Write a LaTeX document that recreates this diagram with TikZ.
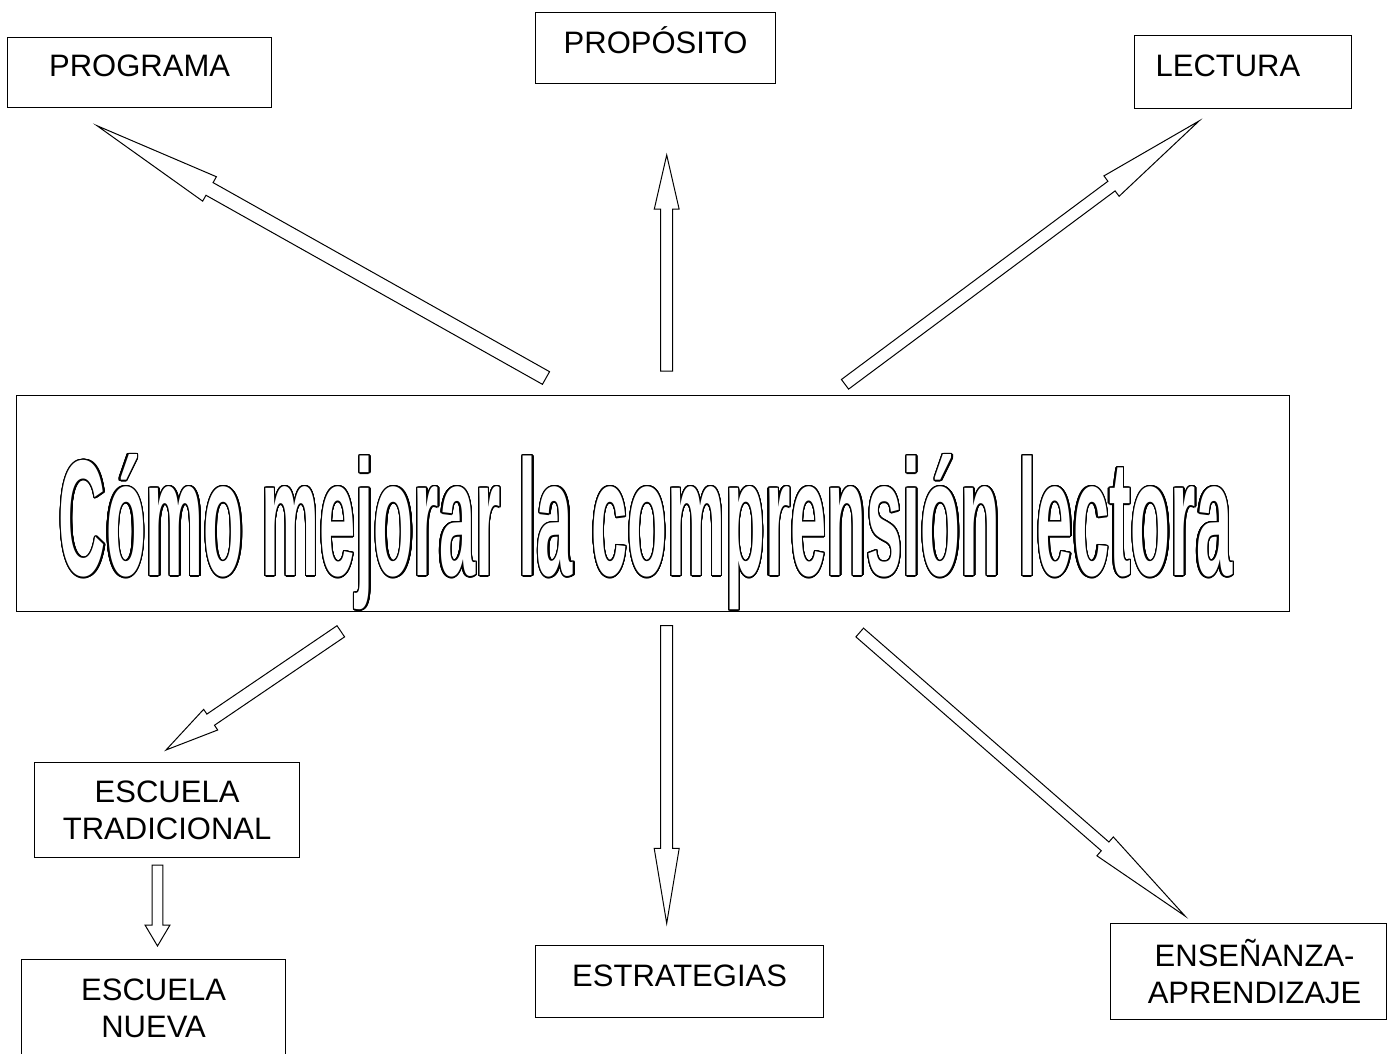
\documentclass[tikz,border=0pt]{standalone}
\usepackage{fontspec}
\setmainfont{Liberation Sans}
\newfontfamily\titlefont[FakeStretch=0.395]{Liberation Sans}
\usepackage{contour}
\contourlength{1.3pt}
\contournumber{32}
\usetikzlibrary{calc}
\tikzset{
  box/.style={draw, line width=1.2pt, inner sep=0pt, font=\fontsize{31}{37}\selectfont},
  blockarr/.style={draw, line width=1pt, line join=miter, fill=white},
  titlebox/.style={draw, line width=1.4pt, inner sep=0pt, text=white,
    font=\titlefont\bfseries\fontsize{165}{165}\selectfont},
}
\newcommand\blockarrow[5]{%
  \draw[blockarr] let \p1=($(#2)-(#1)$), \n1={atan2(\y1,\x1)}, \n2={veclen(\x1,\y1)-#5pt} in
    ($(#1)+(\n1+90:#3pt)$) --
    ($(#1)+(\n1:\n2)+(\n1+90:#3pt)$) --
    ($(#1)+(\n1:\n2)+(\n1+90:#4pt)$) --
    (#2) --
    ($(#1)+(\n1:\n2)+(\n1-90:#4pt)$) --
    ($(#1)+(\n1:\n2)+(\n1-90:#3pt)$) --
    ($(#1)+(\n1-90:#3pt)$) -- cycle;}
\begin{document}
\begin{tikzpicture}[x=1pt,y=-1pt]
\useasboundingbox[fill=white] (0,0) rectangle (1387,1054);

% top boxes
\node[box, minimum width=264pt, text height=39pt, text depth=31pt, anchor=north west] (programa) at (7,37) {PROGRAMA};
\node[box, minimum width=240pt, text height=40.5pt, text depth=30.5pt, anchor=north west] (proposito) at (535,12) {PROPÓSITO};
\node[box, align=left, text width=175pt, inner xsep=21pt, text height=41pt, text depth=31.7pt, anchor=north west] (lectura) at (1134,35) {LECTURA};

% central box
\node[titlebox, minimum width=1273pt, text height=180pt, text depth=36pt, anchor=north west] (title) at (16,395)
  {\contour{black}{Cómo mejorar la comprensión lectora}\hspace*{15pt}};

% bottom boxes
\node[box, align=center, minimum width=265pt, minimum height=95pt, anchor=north west] (tradicional) at (34,762) {ESCUELA\\TRADICIONAL};
\node[box, align=center, minimum width=264pt, minimum height=97pt, anchor=north west] (nueva) at (21,959) {ESCUELA\\NUEVA};
\node[box, minimum width=288pt, text height=41pt, text depth=31pt, anchor=north west] (estrategias) at (535,945) {ESTRATEGIAS};
\node[box, align=center, minimum width=276pt, minimum height=96pt, anchor=north west] (ensenanza) at (1110,923) {\hspace*{12pt}ENSEÑANZA-\\\hspace*{12pt}APRENDIZAJE};

% arrow end points
\coordinate (a1s) at (546,378);     \coordinate (a1e) at (97,125.7);
\coordinate (a2s) at (666.7,371);   \coordinate (a2e) at (666.7,155);
\coordinate (a3s) at (845,384.3);   \coordinate (a3e) at (1199,121);
\coordinate (a4s) at (340.8,631.3); \coordinate (a4e) at (166,750);
\coordinate (a5s) at (666.7,625.7); \coordinate (a5e) at (666.7,923.3);
\coordinate (a6s) at (859.7,632.5); \coordinate (a6e) at (1185,916);
\coordinate (a7s) at (157.5,865);   \coordinate (a7e) at (157.5,946);

\blockarrow{a1s}{a1e}{7.25}{14}{129}
\blockarrow{a2s}{a2e}{6}{12.4}{54}
\blockarrow{a3s}{a3e}{6}{12.7}{109}
\blockarrow{a4s}{a4e}{6.75}{12.5}{54}
\blockarrow{a5s}{a5e}{6}{12.5}{75}
\blockarrow{a6s}{a6e}{5.8}{12.5}{106}
\blockarrow{a7s}{a7e}{5.3}{12.5}{21}
\end{tikzpicture}
\end{document}
